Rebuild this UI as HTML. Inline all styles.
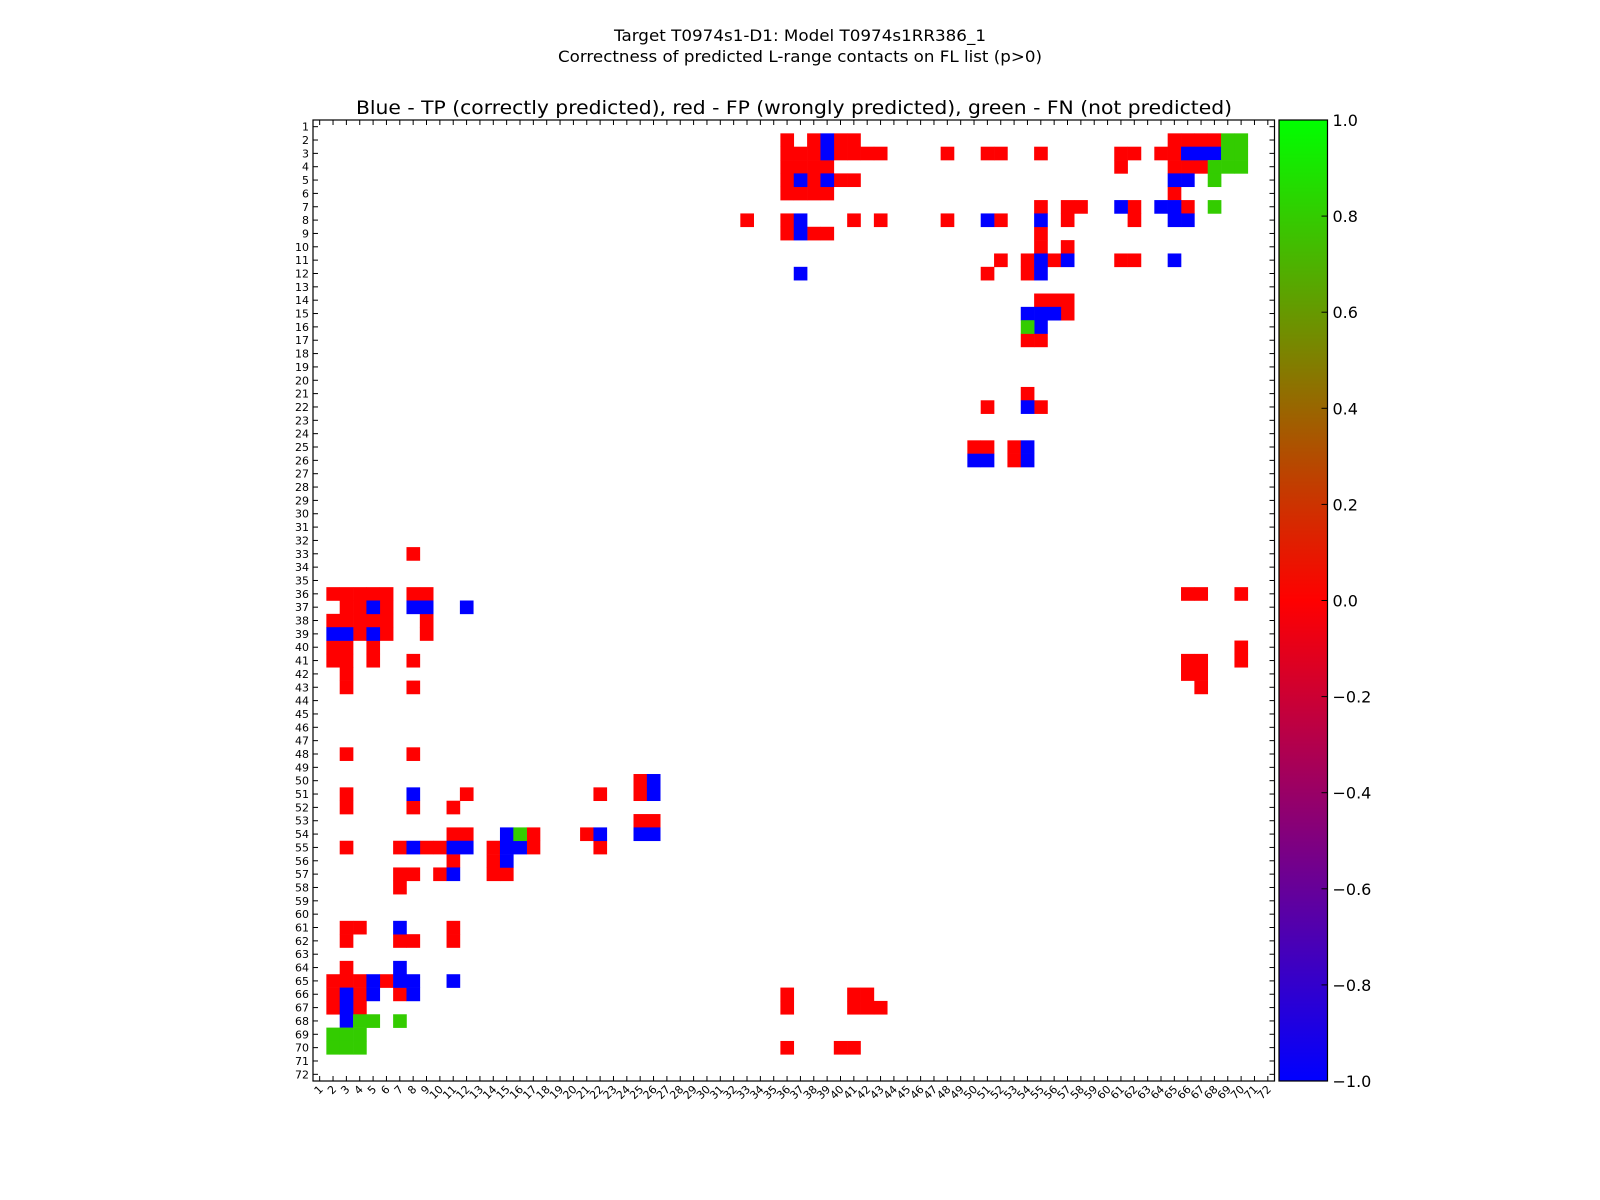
<!DOCTYPE html>
<html><head><meta charset="utf-8">
<style>
html,body{margin:0;padding:0;background:#fff;}
svg{display:block;font-family:"DejaVu Sans","Liberation Sans",sans-serif;}
</style></head>
<body>
<svg id="chart" width="1600" height="1200" viewBox="0 0 1600 1200" xmlns="http://www.w3.org/2000/svg">
<rect x="0" y="0" width="1600" height="1200" fill="#fff"/>
<text x="800" y="41" text-anchor="middle" font-size="16" textLength="372" lengthAdjust="spacingAndGlyphs">Target T0974s1-D1: Model T0974s1RR386_1</text>
<text x="800" y="62" text-anchor="middle" font-size="16" textLength="484" lengthAdjust="spacingAndGlyphs">Correctness of predicted L-range contacts on FL list (p&gt;0)</text>
<text x="794" y="114" text-anchor="middle" font-size="19" textLength="876" lengthAdjust="spacingAndGlyphs">Blue - TP (correctly predicted), red - FP (wrongly predicted), green - FN (not predicted)</text>
<defs>
<linearGradient id="cbg" x1="0" y1="1" x2="0" y2="0">
<stop offset="0" stop-color="#0000ff"/>
<stop offset="0.5" stop-color="#ff0000"/>
<stop offset="1" stop-color="#00ff00"/>
</linearGradient>
</defs>
<g id="cells"></g>
<g id="axes"></g>
<g id="cbar"></g>
</svg>
<script>
// Data: [row, col] pairs (1-based residue indices)
const tpCells = [[2,39],[3,39],[5,37],[5,39],[8,37],[9,37],[12,37],[3,66],[3,67],[3,68],[5,65],[5,66],[7,61],[7,64],[7,65],[8,51],[8,55],[8,65],[8,66],[11,55],[11,57],[11,65],[12,55],[15,54],[15,55],[15,56],[16,55],[22,54],[25,54],[26,50],[26,51],[26,54],
[37,5],[37,8],[37,9],[37,12],[39,2],[39,3],[39,5],[50,26],[51,8],[51,26],[54,15],[54,22],[54,25],[54,26],[55,8],[55,11],[55,12],[55,15],[55,16],[56,15],[57,11],[61,7],[64,7],[65,5],[65,7],[65,8],[65,11],[66,3],[66,5],[66,8],[67,3],[68,3]];
const fpCells = [[2,36],[2,38],[2,40],[2,41],[2,65],[2,66],[2,67],[2,68],[3,36],[3,37],[3,38],[3,40],[3,41],[3,42],[3,43],[3,48],[3,51],[3,52],[3,55],[3,61],[3,62],[3,64],[3,65],[4,36],[4,37],[4,38],[4,39],[4,61],[4,65],[4,66],[4,67],[5,36],[5,38],[5,40],[5,41],[6,36],[6,37],[6,38],[6,39],[6,65],[7,55],[7,57],[7,58],[7,62],[7,66],[8,33],[8,36],[8,41],[8,43],[8,48],[8,52],[8,57],[8,62],[9,36],[9,38],[9,39],[9,55],[10,55],[10,57],[11,52],[11,54],[11,56],[11,61],[11,62],[12,51],[12,54],[14,55],[14,56],[14,57],[15,57],[17,54],[17,55],[21,54],[22,51],[22,55],[25,50],[25,51],[25,53],[26,53],
[33,8],[36,2],[36,3],[36,4],[36,5],[36,6],[36,8],[36,9],[36,66],[36,67],[36,70],[37,3],[37,4],[37,6],[38,2],[38,3],[38,4],[38,5],[38,6],[38,9],[39,4],[39,6],[39,9],[40,2],[40,3],[40,5],[40,70],[41,2],[41,3],[41,5],[41,8],[41,66],[41,67],[41,70],[42,3],[42,66],[42,67],[43,3],[43,8],[43,67],[48,3],[48,8],[50,25],[51,3],[51,12],[51,22],[51,25],[52,3],[52,8],[52,11],[53,25],[53,26],[54,11],[54,12],[54,17],[54,21],[55,3],[55,7],[55,9],[55,10],[55,14],[55,17],[55,22],[56,11],[56,14],[57,7],[57,8],[57,10],[57,14],[57,15],[58,7],[61,3],[61,4],[61,11],[62,3],[62,7],[62,8],[62,11],[64,3],[65,2],[65,3],[65,4],[65,6],[66,2],[66,4],[66,7],[66,36],[66,41],[66,42],[67,2],[67,4],[67,36],[67,41],[67,42],[67,43],[70,36],[70,40],[70,41]];
const fnCells = [[2,69],[2,70],[3,69],[3,70],[4,68],[4,69],[4,70],[5,68],[7,68],[16,54],[54,16],[68,4],[68,5],[68,7],[69,2],[69,3],[69,4],[70,2],[70,3],[70,4]];
const tpValue = -1.0, fpValue = 0.0, fnValue = 0.8;
const nRes = 72;
const cbTicks = [-1.0,-0.8,-0.6,-0.4,-0.2,0.0,0.2,0.4,0.6,0.8,1.0];

const NS = "http://www.w3.org/2000/svg";
const L = 313, T = 120, R = 1274.5, B = 1081;
const cw = (R - L) / nRes, ch = (B - T) / nRes;
const xCell = c => L + (c - 1) * cw;
const yCell = r => T + (r - 1) * ch;
function colorOf(v){
  // blue(-1) -> red(0) -> green(1)
  let r,g,b;
  if (v <= 0){ const t = v + 1; r = 255*t; g = 0; b = 255*(1-t); }
  else { r = 255*(1-v); g = 255*v; b = 0; }
  return `rgb(${Math.round(r)},${Math.round(g)},${Math.round(b)})`;
}
function mk(tag, attrs, parent){
  const e = document.createElementNS(NS, tag);
  for (const k in attrs) e.setAttribute(k, attrs[k]);
  parent.appendChild(e); return e;
}
const cells = document.getElementById('cells');
function drawCells(list, v, name){
  list.forEach(([r,c]) => {
    const e = mk('rect', {x: xCell(c), y: yCell(r), width: cw + 0.3, height: ch + 0.3, fill: colorOf(v)}, cells);
    
    
  });
}
drawCells(fpCells, fpValue, 'fp-cell');
drawCells(tpCells, tpValue, 'tp-cell');
drawCells(fnCells, fnValue, 'fn-cell');

const axes = document.getElementById('axes');
const frame = mk('rect', {x: L, y: T, width: R - L, height: B - T, fill: 'none', stroke: '#000', 'stroke-width': 1.2}, axes);


for (let i = 1; i <= nRes; i++){
  const xc = xCell(i) + cw/2, yc = yCell(i) + ch/2;
  mk('line', {x1: xc, y1: B, x2: xc, y2: B - 5, stroke: '#000', 'stroke-width': 1}, axes);
  mk('line', {x1: xc, y1: T, x2: xc, y2: T + 5, stroke: '#000', 'stroke-width': 1}, axes);
  mk('line', {x1: L, y1: yc, x2: L + 5, y2: yc, stroke: '#000', 'stroke-width': 1}, axes);
  mk('line', {x1: R, y1: yc, x2: R - 5, y2: yc, stroke: '#000', 'stroke-width': 1}, axes);
  const yl = mk('text', {x: L - 4, y: yc + 4, 'text-anchor': 'end', 'font-size': 11}, axes);
  yl.textContent = i;
  
  
  const xl = mk('text', {x: 0, y: 0, 'text-anchor': 'end', 'font-size': 11, transform: `translate(${xc + 4},${B + 9}) rotate(-45)`}, axes);
  xl.textContent = i;
  
  
}

const cbar = document.getElementById('cbar');
const CL = 1279, CR = 1327.5;
const cbRect = mk('rect', {x: CL, y: T, width: CR - CL, height: B - T, fill: 'url(#cbg)', stroke: '#000', 'stroke-width': 1.2}, cbar);


const cbY = v => B - (v + 1) / 2 * (B - T);
cbTicks.forEach(v => {
  const y = cbY(v);
  mk('line', {x1: CR, y1: y, x2: CR - 6, y2: y, stroke: '#000', 'stroke-width': 1}, cbar);
  const t = mk('text', {x: CR + 5, y: y + 6, 'font-size': 16}, cbar);
  t.textContent = (v < 0 ? '\u2212' : '') + Math.abs(v).toFixed(1);
  
  
});
</script>
</body></html>
